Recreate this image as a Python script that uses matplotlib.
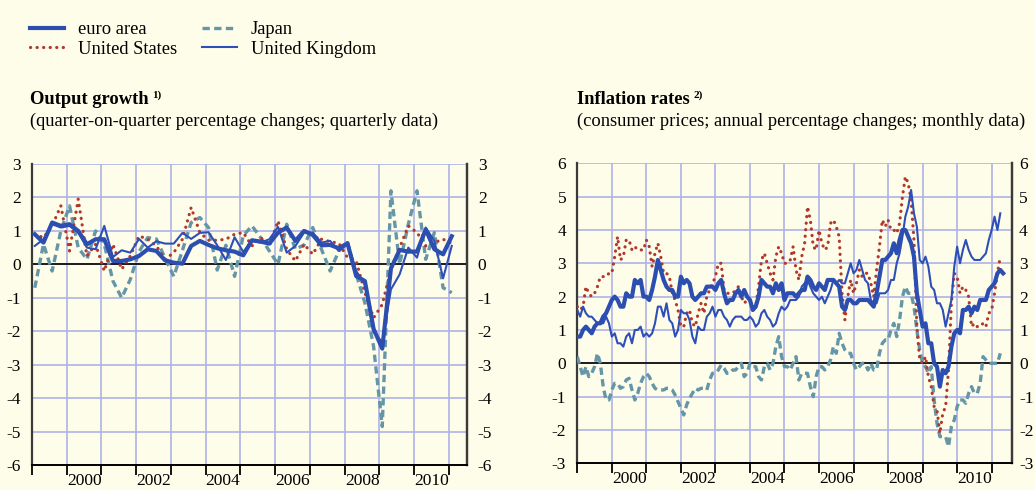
import matplotlib
matplotlib.use("Agg")
import matplotlib.pyplot as plt
from matplotlib.ticker import FixedLocator, NullFormatter, FixedFormatter

plt.rcParams['font.family'] = ['Liberation Serif', 'DejaVu Serif']

# ---------------- data ----------------
series_names = ["euro area", "United States", "Japan", "United Kingdom"]

gdp_start_year = 1999   # quarterly, 1999Q1 .. 2011Q1
euro_gdp = [0.9, 0.65, 1.25, 1.15,
            1.2, 1.0, 0.6, 0.75,
            0.75, 0.1, 0.1, 0.15,
            0.25, 0.45, 0.4, 0.12,
            0.05, 0.02, 0.55, 0.7,
            0.58, 0.48, 0.42, 0.38,
            0.27, 0.72, 0.68, 0.62,
            0.95, 1.1, 0.7, 1.0,
            0.88, 0.57, 0.58, 0.48,
            0.63, -0.35, -0.5, -1.93,
            -2.52, -0.12, 0.43, 0.38,
            0.38, 1.04, 0.45, 0.3,
            0.84]
us_gdp = [0.9, 0.8, 1.15, 1.75,
          0.4, 1.95, 0.25, 0.6,
          -0.2, 0.6, -0.15, 0.25,
          0.85, 0.75, 0.55, 0.15,
          0.35, 0.75, 1.7, 0.95,
          0.72, 0.72, 0.75, 0.9,
          0.95, 0.55, 0.8, 0.55,
          1.3, 0.45, 0.1, 0.6,
          0.3, 0.75, 0.68, 0.63,
          0.2, 0.1, -0.85, -1.6,
          -1.2, -0.15, 0.5, 1.15,
          0.95, 0.55, 0.65, 0.75,
          0.62]
jp_gdp = [-0.7, 0.6, -0.2, 1.0,
          1.75, 0.5, 0.15, 1.0,
          0.6, -0.5, -1.0, -0.45,
          0.38, 0.8, 0.76, 0.18,
          -0.36, 0.42, 1.25, 1.4,
          1.1, -0.17, 0.57, -0.36,
          0.86, 1.15, 0.8, 0.4,
          0.0, 1.2, 0.45, 0.58,
          1.1, 0.45, -0.2, 0.4,
          0.65, -0.3, -1.15, -2.45,
          -4.85, 2.2, 0.0, 1.2,
          2.2, 0.15, 0.95, -0.7,
          -0.85]
uk_gdp = [0.55, 0.75, 1.2, 1.1,
          1.15, 0.95, 0.5, 0.45,
          1.15, 0.22, 0.42, 0.35,
          0.76, 0.5, 0.69, 0.62,
          0.62, 0.94, 0.76, 0.94,
          0.96, 0.57, 0.13, 0.81,
          0.37, 0.7, 0.65, 0.75,
          1.12, 0.35, 0.55, 0.95,
          0.95, 0.65, 0.7, 0.4,
          0.6, -0.2, -0.6, -2.03,
          -2.33, -0.75, -0.3, 0.5,
          0.2, 1.1, 0.7, -0.42,
          0.55]

infl_start_year = 1999  # monthly, from Jan 1999
euro_infl = [0.8, 0.8, 1.0, 1.1, 1.0, 0.9, 1.1, 1.2, 1.2, 1.4, 1.5, 1.7,
             1.9, 2.0, 1.9, 1.7, 1.7, 2.1, 2.0, 2.0, 2.5, 2.4, 2.5, 2.0,
             2.0, 1.9, 2.2, 2.6, 3.1, 2.8, 2.5, 2.3, 2.2, 2.2, 2.0, 2.0,
             2.6, 2.4, 2.5, 2.4, 2.0, 1.9, 2.0, 2.1, 2.1, 2.3, 2.3, 2.3,
             2.2, 2.4, 2.5, 2.1, 1.8, 1.9, 1.9, 2.1, 2.2, 2.0, 2.2, 2.0,
             1.9, 1.6, 1.7, 2.0, 2.5, 2.4, 2.3, 2.3, 2.1, 2.4, 2.2, 2.4,
             1.9, 2.1, 2.1, 2.1, 2.0, 2.1, 2.2, 2.2, 2.6, 2.5, 2.3, 2.2,
             2.4, 2.3, 2.2, 2.5, 2.5, 2.5, 2.4, 2.3, 1.7, 1.6, 1.9, 1.9,
             1.8, 1.8, 1.9, 1.9, 1.9, 1.9, 1.8, 1.7, 2.1, 2.6, 3.1, 3.1,
             3.2, 3.3, 3.6, 3.3, 3.7, 4.0, 4.0, 3.8, 3.6, 3.2, 2.1, 1.6,
             1.1, 1.2, 0.6, 0.6, 0.0, -0.1, -0.7, -0.2, -0.3, -0.1, 0.5, 0.9,
             1.0, 0.9, 1.6, 1.6, 1.7, 1.5, 1.7, 1.6, 1.9, 1.9, 1.9, 2.2,
             2.3, 2.4, 2.7, 2.8, 2.7]
us_infl = [1.7, 1.6, 1.7, 2.3, 2.1, 2.0, 2.1, 2.3, 2.6, 2.6, 2.6, 2.7,
           2.7, 3.2, 3.8, 3.1, 3.2, 3.7, 3.7, 3.4, 3.5, 3.4, 3.4, 3.4,
           3.7, 3.5, 2.9, 3.3, 3.6, 3.2, 2.7, 2.7, 2.6, 2.1, 1.9, 1.6,
           1.1, 1.1, 1.5, 1.6, 1.2, 1.1, 1.5, 1.8, 1.5, 2.0, 2.2, 2.4,
           2.6, 3.0, 3.0, 2.2, 2.1, 2.1, 2.1, 2.2, 2.3, 2.0, 1.8, 1.9,
           1.9, 1.7, 1.7, 2.3, 3.1, 3.3, 3.0, 2.7, 2.5, 3.2, 3.5, 3.3,
           3.0, 3.0, 3.1, 3.5, 2.8, 2.5, 3.2, 3.6, 4.7, 4.3, 3.5, 3.4,
           4.0, 3.6, 3.4, 3.5, 4.2, 4.3, 4.1, 3.8, 2.1, 1.3, 2.0, 2.5,
           2.1, 2.4, 2.8, 2.6, 2.7, 2.7, 2.4, 2.0, 2.8, 3.5, 4.3, 4.1,
           4.3, 4.0, 4.0, 3.9, 4.2, 5.0, 5.6, 5.4, 4.9, 3.7, 1.1, 0.1,
           0.0, 0.2, -0.4, -0.7, -1.3, -1.4, -2.1, -1.5, -1.3, -0.2, 1.8, 2.7,
           2.6, 2.1, 2.3, 2.2, 2.0, 1.1, 1.2, 1.1, 1.1, 1.2, 1.1, 1.5,
           1.6, 2.1, 2.7, 3.2]
jp_infl = [0.2, -0.1, -0.4, -0.1, -0.4, -0.3, -0.1, 0.3, 0.0, -0.7, -1.1, -1.1,
           -0.8, -0.6, -0.6, -0.75, -0.7, -0.5, -0.45, -0.8, -1.1, -0.9, -0.6, -0.4,
           -0.3, -0.4, -0.6, -0.75, -0.8, -0.8, -0.8, -0.75, -0.75, -0.8, -0.95, -1.15,
           -1.35, -1.55, -1.25, -1.05, -0.9, -0.75, -0.8, -0.75, -0.75, -0.8, -0.5, -0.3,
           -0.3, -0.2, -0.05, -0.15, -0.3, -0.3, -0.2, -0.2, -0.1, 0.0, -0.4, -0.3,
           0.0, -0.1, -0.1, -0.4, -0.5, -0.1, 0.0, -0.2, 0.0, 0.5, 0.8, 0.2,
           -0.1, -0.1, -0.2, 0.0, 0.2, -0.5, -0.3, -0.3, -0.3, -0.7, -1.0, -0.4,
           -0.1, -0.1, -0.2, -0.1, 0.1, 0.5, 0.3, 0.9, 0.6, 0.4, 0.3, 0.3,
           0.0, -0.2, -0.1, 0.0, 0.0, -0.2, 0.0, -0.2, -0.2, 0.3, 0.6, 0.7,
           0.7, 1.0, 1.2, 0.8, 1.3, 2.0, 2.3, 2.1, 2.1, 1.7, 1.0, 0.4,
           0.0, -0.1, -0.3, -0.1, -1.1, -1.8, -2.2, -2.2, -2.2, -2.5, -1.9, -1.7,
           -1.3, -1.1, -1.1, -1.2, -0.9, -0.7, -0.9, -0.9, -0.6, 0.2, 0.1, 0.0,
           0.0, 0.0, 0.0, 0.3]
uk_infl = [1.6, 1.4, 1.7, 1.5, 1.4, 1.4, 1.3, 1.2, 1.2, 1.2, 1.4, 1.2,
           0.8, 0.9, 0.6, 0.6, 0.5, 0.8, 0.9, 0.6, 1.0, 1.0, 1.1, 0.8,
           0.9, 0.8, 0.9, 1.2, 1.7, 1.7, 1.4, 1.8, 1.3, 1.2, 0.8, 1.0,
           1.6, 1.5, 1.5, 1.3, 0.8, 0.6, 1.1, 1.0, 1.0, 1.4, 1.5, 1.7,
           1.4, 1.6, 1.6, 1.4, 1.3, 1.1, 1.3, 1.4, 1.4, 1.4, 1.3, 1.3,
           1.4, 1.3, 1.1, 1.2, 1.5, 1.6, 1.4, 1.3, 1.1, 1.2, 1.5, 1.7,
           1.6, 1.7, 1.9, 1.9, 1.9, 2.0, 2.3, 2.4, 2.5, 2.3, 2.1, 2.0,
           1.9, 2.0, 1.8, 2.0, 2.2, 2.5, 2.4, 2.5, 2.4, 2.4, 2.7, 3.0,
           2.7, 2.8, 3.1, 2.8, 2.5, 2.4, 1.9, 1.8, 1.8, 2.1, 2.1, 2.1,
           2.2, 2.5, 2.5, 3.0, 3.3, 3.8, 4.4, 4.7, 5.2, 4.5, 4.1, 3.1,
           3.0, 3.2, 2.9, 2.3, 2.2, 1.8, 1.8, 1.6, 1.1, 1.5, 1.9, 2.9,
           3.5, 3.0, 3.4, 3.7, 3.4, 3.2, 3.1, 3.1, 3.1, 3.2, 3.3, 3.7,
           4.0, 4.4, 4.0, 4.5]

year_ticks = list(range(1999, 2012))
year_labels = ["2000", "2002", "2004", "2006", "2008", "2010"]
gdp_yticks = [3, 2, 1, 0, -1, -2, -3, -4, -5, -6]
infl_yticks = [6, 5, 4, 3, 2, 1, 0, -1, -2, -3]

# ---------------- style ----------------
BG = "#FEFDE9"
GRID = "#AEB3E6"
C_EURO = "#2C4EB0"
C_US = "#B2382C"
C_JP = "#6596A8"
C_UK = "#2F4FB8"
FS_TICK = 12.5
FS_TEXT = 13.3

def qx(start, n):
    return [start + i / 4 + 0.08 for i in range(n)]

def mx(start, n):
    return [start + i / 12 for i in range(n)]

fig = plt.figure(figsize=(10.35, 4.9), dpi=100, facecolor=BG)

def style_axes(ax, yticks, xright, right_pad):
    ax.set_facecolor(BG)
    ax.set_xlim(1999, xright)
    ax.set_ylim(min(yticks), max(yticks))
    ax.xaxis.set_major_locator(FixedLocator(year_ticks))
    ax.xaxis.set_major_formatter(NullFormatter())
    ax.xaxis.set_minor_locator(FixedLocator([int(y) + 0.5 for y in year_labels]))
    ax.xaxis.set_minor_formatter(FixedFormatter(year_labels))
    ax.tick_params(axis='x', which='major', direction='out', length=7, width=1.3, color='black')
    ax.tick_params(axis='x', which='minor', length=0, pad=5.5, labelsize=FS_TICK)
    ax.set_yticks(yticks)
    ax.set_yticklabels([str(v) for v in yticks])
    ax.tick_params(axis='y', which='both', length=0, labelsize=FS_TICK, pad=8,
                   left=True, right=False, labelleft=True, labelright=False)
    sec = ax.secondary_yaxis('right')
    sec.set_yticks(yticks)
    sec.set_yticklabels([str(v) for v in yticks])
    sec.tick_params(axis='y', length=0, labelsize=FS_TICK, pad=right_pad)
    sec.spines['right'].set_color('#3a3a3a')
    sec.spines['right'].set_linewidth(1.6)
    ax.grid(True, which='major', color=GRID, lw=1.2)
    ax.set_axisbelow(True)
    ax.spines['top'].set_visible(False)
    for s in ('left', 'right'):
        ax.spines[s].set_color('#3a3a3a')
        ax.spines[s].set_linewidth(1.6)
    ax.spines['bottom'].set_color('black')
    ax.spines['bottom'].set_linewidth(1.4)
    ax.axhline(0, color='black', lw=1.2, zorder=1.5)

def draw_series(ax, xs_euro, euro, xs_us, us, xs_jp, jp, xs_uk, uk):
    hj, = ax.plot(xs_jp, jp, color=C_JP, lw=2.4, linestyle=(0, (2.2, 1.3)), zorder=3,
                  label=series_names[2])
    hu, = ax.plot(xs_us, us, color=C_US, lw=2.3, linestyle=(0, (0.05, 2.0)),
                  dash_capstyle='round', solid_capstyle='round', zorder=4,
                  label=series_names[1])
    hk, = ax.plot(xs_uk, uk, color=C_UK, lw=1.5, zorder=5, label=series_names[3])
    he, = ax.plot(xs_euro, euro, color=C_EURO, lw=3.0, zorder=6, label=series_names[0])
    return he, hu, hj, hk

# left panel
ax1 = fig.add_axes([32 / 1035, 1 - 465 / 490, (466.7 - 32) / 1035, (465 - 164) / 490])
style_axes(ax1, gdp_yticks, 2011.51, 8)
handles = draw_series(ax1,
                      qx(gdp_start_year, len(euro_gdp)), euro_gdp,
                      qx(gdp_start_year, len(us_gdp)), us_gdp,
                      qx(gdp_start_year, len(jp_gdp)), jp_gdp,
                      qx(gdp_start_year, len(uk_gdp)), uk_gdp)

# right panel
ax2 = fig.add_axes([577.3 / 1035, 1 - 463.3 / 490, (1011.7 - 577.3) / 1035, (463.3 - 163.3) / 490])
style_axes(ax2, infl_yticks, 2011.58, 5.3)
draw_series(ax2,
            mx(infl_start_year, len(euro_infl)), euro_infl,
            mx(infl_start_year, len(us_infl)), us_infl,
            mx(infl_start_year, len(jp_infl)), jp_infl,
            mx(infl_start_year, len(uk_infl)), uk_infl)

# legend
fig.legend(handles=list(handles), labels=series_names, ncol=2, loc='upper left',
           bbox_to_anchor=(30 / 1035, 1 - 21 / 490), frameon=False, fontsize=FS_TEXT,
           handlelength=1.85, handletextpad=0.77, columnspacing=1.35,
           labelspacing=0.15, borderpad=0, borderaxespad=0)

# titles
def title_with_sup(x_px, y_px, title, sup, sub):
    t = fig.text(x_px / 1035, 1 - y_px / 490, title, fontsize=FS_TEXT, fontweight='bold',
                 va='baseline', ha='left')
    fig.canvas.draw()
    bb = t.get_window_extent()
    fig.text((bb.x1 + 4) / 1035, 1 - (y_px - 6) / 490, sup, fontsize=8,
             fontweight='bold', va='baseline', ha='left')
    fig.text(x_px / 1035, 1 - (y_px + 22) / 490, sub, fontsize=FS_TEXT,
             va='baseline', ha='left')

title_with_sup(30, 104, "Output growth", "1)",
               "(quarter-on-quarter percentage changes; quarterly data)")
title_with_sup(577, 104, "Inflation rates", "2)",
               "(consumer prices; annual percentage changes; monthly data)")

fig.savefig("out.png", dpi=100, facecolor=BG)
